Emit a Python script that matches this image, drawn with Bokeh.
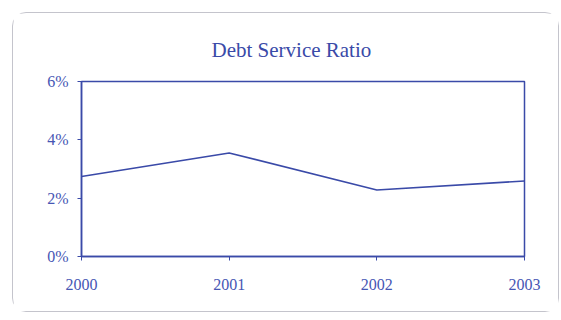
from bokeh.plotting import figure
from bokeh.models import Range1d, FixedTicker
from bokeh.embed import file_html
from bokeh.resources import INLINE

years = [2000, 2001, 2002, 2003]
ratio = [2.74, 3.55, 2.28, 2.59]
year_labels = ["2000", "2001", "2002", "2003"]
y_ticks = [0, 2, 4, 6]
y_labels = ["0%", "2%", "4%", "6%"]
title_text = "Debt Service Ratio"

BLUE = "#3a4aa8"
TXT = "#4656b4"
FONT = "Liberation Serif"

p = figure(width=547, height=300, output_backend="svg", toolbar_location=None,
           x_range=Range1d(2000, 2003), y_range=Range1d(0, 6),
           min_border_left=68, min_border_right=36, min_border_top=68, min_border_bottom=57)
p.margin = (12, 0, 0, 12)
p.styles = {"border": "1.5px solid #c4c4cc", "border-radius": "14px"}

p.title.text = title_text
p.title.align = "left"
p.title.text_font = FONT
p.title.text_font_size = "21px"
p.title.text_font_style = "normal"
p.title.text_color = "#3a4aa8"
p.title.standoff = 40
p.title.offset = 130

p.background_fill_color = "white"
p.border_fill_color = "white"
p.outline_line_color = BLUE
p.outline_line_width = 1.5
p.outline_line_alpha = 1
p.xgrid.visible = False
p.ygrid.visible = False

p.xaxis.ticker = FixedTicker(ticks=years)
p.xaxis.major_label_overrides = {y: l for y, l in zip(years, year_labels)}
p.yaxis.ticker = FixedTicker(ticks=y_ticks)
p.yaxis.major_label_overrides = {t: l for t, l in zip(y_ticks, y_labels)}

for ax in (p.xaxis[0], p.yaxis[0]):
    ax.axis_line_color = BLUE
    ax.axis_line_width = 1.5
    ax.major_tick_line_color = BLUE
    ax.major_tick_in = 0
    ax.major_tick_out = 4
    ax.minor_tick_line_color = None
    ax.major_label_text_font = FONT
    ax.major_label_text_font_size = "16px"
    ax.major_label_text_color = TXT
p.xaxis.major_label_standoff = 18
p.yaxis.major_label_standoff = 9

p.line(years, ratio, line_color=BLUE, line_width=1.6)

open("out.html", "w").write(file_html(p, INLINE))
